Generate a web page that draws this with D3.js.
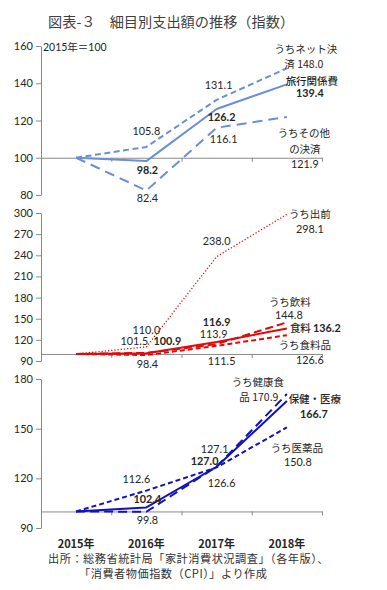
<!DOCTYPE html>
<html><head><meta charset="utf-8">
<script src="https://cdn.jsdelivr.net/npm/d3@7"></script>
<style>
html,body{margin:0;padding:0;background:#fff;}
svg{display:block;}
text{font-family:Lato,"Noto Sans CJK JP",sans-serif;fill:#262626;}
.jp{font-family:"Noto Sans CJK JP",sans-serif;}
</style></head>
<body>
<script>
// ---------- DATA ----------
const years = ["2015年", "2016年", "2017年", "2018年"];
// Panel 1 (travel)
const travel      = [100, 98.2, 126.2, 139.4];
const travelNet   = [100, 105.8, 131.1, 148.0];
const travelOther = [100, 82.4, 116.1, 121.9];
// Panel 2 (food)
const food         = [100, 100.9, 116.9, 136.2];
const foodDelivery = [100, 110.0, 238.0, 298.1];
const foodDrinks   = [100, 101.5, 113.9, 144.8];
const foodProducts = [100, 98.4, 111.5, 126.6];
// Panel 3 (health)
const health       = [100, 102.4, 127.0, 166.7];
const healthFood   = [100, 99.8, 127.1, 170.9];
const healthMeds   = [100, 112.6, 126.6, 150.8];
// Tick labels
const ticks1 = [80, 100, 120, 140, 160];
const ticks2 = [90, 120, 150, 180, 210, 240, 270, 300];
const ticks3 = [90, 120, 150, 180];
const title = "図表-３　細目別支出額の推移（指数）";
const unitLabel = "2015年＝100";
const source1 = "出所：総務省統計局「家計消費状況調査」（各年版）、";
const source2 = "「消費者物価指数（CPI）」より作成";

// ---------- LAYOUT ----------
const W = 387, H = 590;
const svg = d3.select("body").append("svg").attr("width", W).attr("height", H);
const x = d3.scaleBand().domain(years).range([41, 322]).padding(0);
const xc = y => x(y) + x.bandwidth() / 2;
const xEdge = d3.scaleLinear().domain([0, 4]).range([41, 322]);

const panels = [
  { y: d3.scaleLinear().domain([80, 160]).range([195, 46]), ticks: ticks1, color: "#6b8ed9",
    series: [
      { v: travelNet, dash: "6,3.5", w: 2 },
      { v: travelOther, dash: "10,6", w: 2 },
      { v: travel, dash: null, w: 2 }
    ],
    labels: [
      // [yearIndex, value, dx, dy, text, weight]
      [1, 105.8, 0, -12, "105.8"], [1, 98.2, 1, 13, "98.2", "bold"], [1, 82.4, 1, 11.5, "82.4"],
      [2, 131.1, 2, -11, "131.1"], [2, 126.2, 5, 12, "126.2", "bold"], [2, 116.1, 7, 15, "116.1"],
      [3, 148.0, 19, -15.4, "うちネット決"], [3, 148.0, 17, 0, "済 148.0"],
      [3, 139.4, 25, 0.2, "旅行関係費", 500], [3, 139.4, 23, 13, "139.4", "bold"],
      [3, 121.9, 17, 20, "うちその他"], [3, 121.9, 18, 36, "の決済"], [3, 121.9, 18, 51, "121.9"]
    ]},
  { y: d3.scaleLinear().domain([90, 300]).range([361, 213]), ticks: ticks2, color: "#e00a0a",
    series: [
      { v: foodDelivery, dash: "1.2,2", w: 1.3 },
      { v: foodDrinks, dash: "8,4", w: 2 },
      { v: foodProducts, dash: "5,3", w: 2 },
      { v: food, dash: null, w: 2 }
    ],
    labels: [
      [1, 110.0, 0, -12.5, "110.0"], [1, 101.5, -12, -7.5, "101.5"], [1, 100.9, 21, -8, "100.9", "bold"],
      [1, 98.4, 1, 13, "98.4"],
      [2, 238.0, 0, -11.7, "238.0"], [2, 116.9, 0, -16.5, "116.9", "bold"], [2, 113.9, -3, -6, "113.9"],
      [2, 111.5, 5, 19, "111.5"],
      [3, 298.1, 23, 3.7, "うち出前"], [3, 298.1, 23, 18.7, "298.1"],
      [3, 144.8, 3, -16.4, "うち飲料"], [3, 144.8, 2, -3.4, "144.8"],
      [3, 136.2, 13.5, 3.6, "食料", 500], [3, 136.2, 40, 3.6, "136.2", "bold"],
      [3, 126.6, 18, 14, "うち食料品"], [3, 126.6, 23, 28.8, "126.6"]
    ]},
  { y: d3.scaleLinear().domain([90, 180]).range([528, 379]), ticks: ticks3, color: "#1212b8",
    series: [
      { v: healthMeds, dash: "5,3", w: 2 },
      { v: healthFood, dash: "9,5", w: 2 },
      { v: health, dash: null, w: 2 }
    ],
    labels: [
      [1, 112.6, -10, -7.6, "112.6"], [1, 102.4, 1, -4, "102.4", "bold"], [1, 99.8, 1, 12, "99.8"],
      [2, 127.1, -2, -14, "127.1"], [2, 127.0, -12, -2, "127.0", "bold"], [2, 126.6, 5, 20, "126.6"],
      [3, 170.9, -29, -8, "うち健康食"], [3, 170.9, -28, 7, "品 170.9"],
      [3, 166.7, 28, 2, "保健・医療", 500], [3, 166.7, 27, 17, "166.7", "bold"],
      [3, 150.8, 10, 25, "うち医薬品"], [3, 150.8, 11, 39, "150.8"]
    ]}
];

// Title
svg.append("text").attr("class", "jp").attr("x", 48).attr("y", 27)
  .attr("font-size", 14.2).style("fill", "#404040").text(title);

panels.forEach((p, i) => {
  const g = svg.append("g");
  // y axis
  const ya = g.append("g").attr("transform", "translate(41,0)")
    .call(d3.axisLeft(p.y).tickValues(p.ticks).tickSize(5).tickPadding(3).tickSizeOuter(0));
  ya.select(".domain").attr("stroke", "#8a8a8a");
  ya.selectAll(".tick line").attr("stroke", "#8a8a8a");
  ya.selectAll(".tick text").attr("font-size", 11).attr("font-family", "Lato,sans-serif").style("fill", "#262626");
  // x baseline at 100
  const xa = g.append("g").attr("transform", `translate(0,${p.y(100)})`)
    .call(d3.axisBottom(xEdge).tickValues([1, 2, 3, 4]).tickSize(4).tickSizeOuter(0).tickFormat(""));
  xa.select(".domain").attr("stroke", "#8a8a8a");
  xa.selectAll(".tick line").attr("stroke", "#8a8a8a");
  // lines
  const line = d3.line().x((d, j) => xc(years[j])).y(d => p.y(d));
  p.series.forEach(s => {
    g.append("path").datum(s.v).attr("d", line).attr("fill", "none")
      .attr("stroke", p.color).attr("stroke-width", s.w)
      .attr("stroke-dasharray", s.dash).attr("stroke-linejoin", "round");
  });
  // labels
  p.labels.forEach(l => {
    const isJp = /[^\x00-\x7F]/.test(l[4]);
    g.append("text").attr("x", xc(years[l[0]]) + l[2]).attr("y", p.y(l[1]) + l[3])
      .attr("text-anchor", "middle").attr("font-size", isJp ? 10.5 : 10.8)
      .attr("font-weight", l[5] || "normal")
      .attr("class", isJp ? "jp" : null)
      .text(l[4]);
  });
});

// unit label
svg.append("text").attr("x", 43).attr("y", 51).attr("font-size", 10.5).text(unitLabel);

// year labels
svg.append("g").selectAll("text").data(years).join("text")
  .attr("class", "jp").attr("x", d => xc(d)).attr("y", 548)
  .attr("text-anchor", "middle").attr("font-size", 11).attr("font-weight", "bold")
  .text(d => d);

// source
svg.append("text").attr("class", "jp").attr("x", 48).attr("y", 563).attr("font-size", 11.2)
  .attr("letter-spacing", 0.5).style("fill", "#333").text(source1);
svg.append("text").attr("class", "jp").attr("x", 79).attr("y", 578).attr("font-size", 11.2)
  .attr("letter-spacing", 0.5).style("fill", "#333").text(source2);
</script>
</body></html>
